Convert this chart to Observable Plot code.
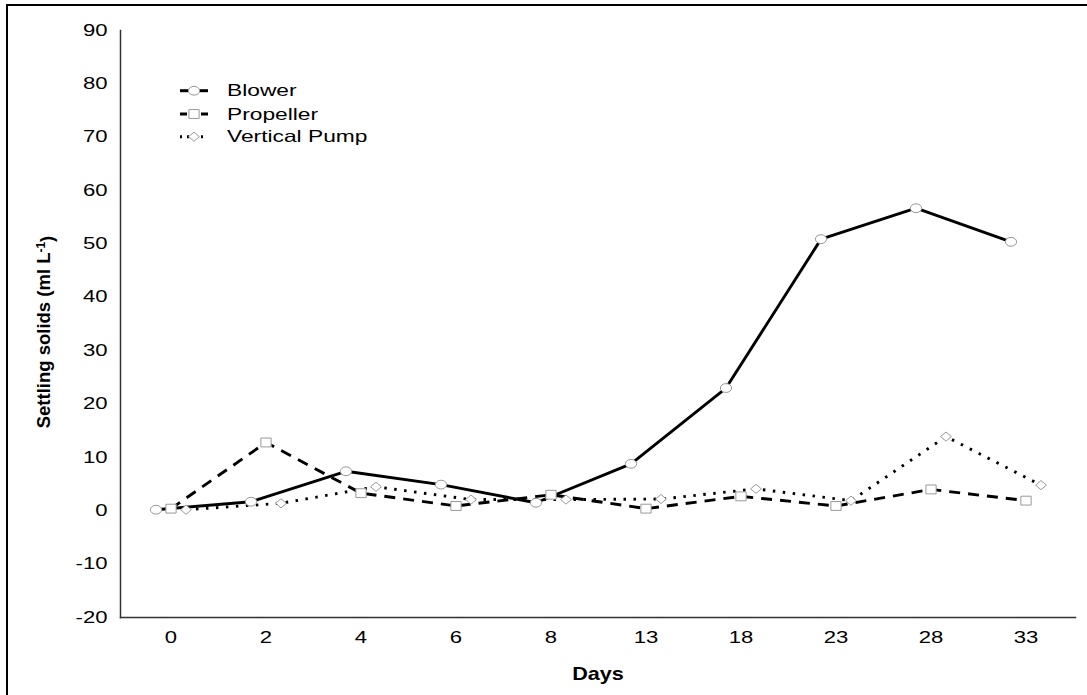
<!DOCTYPE html>
<html><head><meta charset="utf-8">
<script src="https://cdn.jsdelivr.net/npm/d3@7"></script>
<script src="https://cdn.jsdelivr.net/npm/@observablehq/plot@0.6"></script>
<style>
body{margin:0;background:#fff;overflow:hidden;font-family:"Liberation Sans",Arial,sans-serif}
#wrap{position:relative;width:1087px;height:695px;overflow:hidden}
#chart{position:absolute;left:0;top:0}
#border{position:absolute;left:6px;top:4px;width:3000px;height:3000px;border:2px solid #000;pointer-events:none}
#legend{position:absolute;left:170px;top:78px}
</style></head><body>
<div id="wrap"><div id="chart"></div><div id="legend"></div><div id="border"></div></div>
<script>
const days = ["0","2","4","6","8","13","18","23","28","33"];
const blower = [0.2, 1.7, 7.4, 4.9, 1.5, 8.8, 23.0, 50.9, 56.7, 50.4];
const propeller = [0.4, 12.8, 3.3, 0.9, 3.0, 0.4, 2.7, 0.9, 4.0, 1.9];
const verticalPump = [0.2, 1.4, 4.5, 2.1, 2.1, 2.2, 4.1, 1.9, 13.9, 4.8];
const seriesNames = ["Blower", "Propeller", "Vertical Pump"];
const yTicks = [-20, -10, 0, 10, 20, 30, 40, 50, 60, 70, 80, 90];
const yTitle = "Settling solids (ml L-1)";
const xTitle = "Days";

// horizontally stretched marker shapes (the reference is a widened picture)
const K = 0.5523;
const ellipseSym = {draw(c, size) {
  const r = Math.sqrt(size / Math.PI), rx = r * 1.08, ry = r * 0.85;
  c.moveTo(rx, 0);
  c.bezierCurveTo(rx, K * ry, K * rx, ry, 0, ry);
  c.bezierCurveTo(-K * rx, ry, -rx, K * ry, -rx, 0);
  c.bezierCurveTo(-rx, -K * ry, -K * rx, -ry, 0, -ry);
  c.bezierCurveTo(K * rx, -ry, rx, -K * ry, rx, 0);
  c.closePath();
}};
const rectSym = {draw(c, size) {
  const r = Math.sqrt(size / Math.PI), w = r * 0.95, h = r * 0.82;
  c.moveTo(-w, -h); c.lineTo(w, -h); c.lineTo(w, h); c.lineTo(-w, h); c.closePath();
}};
const diamondSym = {draw(c, size) {
  const r = Math.sqrt(size / Math.PI), w = r * 1.0, h = r * 0.85;
  c.moveTo(0, -h); c.lineTo(w, 0); c.lineTo(0, h); c.lineTo(-w, 0); c.closePath();
}};

const seriesValues = [blower, propeller, verticalPump];
const styles = [
  {dx: -15, dash: null, symbol: ellipseSym, r: 5.2},
  {dx: 0, dash: "11,8", symbol: rectSym, r: 5.4},
  {dx: 15, dash: "2.5,7.5", symbol: diamondSym, r: 5.4}
];
const tables = seriesValues.map((vals, i) => days.map((d, j) => ({day: d, value: vals[j], series: seriesNames[i]})));

const marks = [
  Plot.axisY({ticks: yTicks, tickSize: 0, tickPadding: 13, label: null, fontSize: 16, tickFormat: d => String(d)}),
  Plot.axisX({tickSize: 0, tickPadding: 14, label: null, fontSize: 16}),
  Plot.frame({anchor: "left", stroke: "#333", strokeWidth: 1.5}),
  Plot.frame({anchor: "bottom", stroke: "#333", strokeWidth: 1.5}),
  Plot.text([yTitle], {frameAnchor: "left", dx: -76, dy: 8, rotate: -90, textAnchor: "middle", fontWeight: "bold", fontSize: 18.5, text: d => d}),
  Plot.text([xTitle], {frameAnchor: "bottom", dy: 62, textAnchor: "middle", fontWeight: "bold", fontSize: 18, text: d => d})
];
tables.forEach((t, i) => {
  const s = styles[i];
  marks.push(Plot.line(t, {x: "day", y: "value", dx: s.dx, stroke: "#000", strokeWidth: 2.9,
    strokeDasharray: s.dash || undefined, strokeLinecap: "butt"}));
});
tables.forEach((t, i) => {
  const s = styles[i];
  marks.push(Plot.dot(t, {x: "day", y: "value", dx: s.dx, symbol: s.symbol, r: s.r,
    fill: "white", stroke: "#999", strokeWidth: 1}));
});

const chart = Plot.plot({
  width: 1087, height: 695,
  marginLeft: 120, marginRight: 12, marginTop: 30, marginBottom: 78,
  style: {fontFamily: "'Liberation Sans', Arial, sans-serif", fontSize: "16px", color: "#000", background: "transparent"},
  x: {type: "band", domain: days, padding: 0},
  y: {domain: [-20, 90]},
  marks
});
document.getElementById("chart").appendChild(chart);

const NS = "http://www.w3.org/2000/svg";
// widen a text horizontally about its anchor line (the reference picture is widened)
function stretch(t, s) {
  const r = t.getBoundingClientRect();
  const anchor = getComputedStyle(t).textAnchor;
  const sx = anchor === "end" ? r.right : anchor === "middle" ? (r.left + r.right) / 2 : r.left;
  const sy = (r.top + r.bottom) / 2;
  const p = t.parentNode;
  const m = p.getScreenCTM().inverse();
  const ax = sx * m.a + sy * m.c + m.e;
  const g = document.createElementNS(NS, "g");
  g.setAttribute("transform", `translate(${ax},0) scale(${s},1) translate(${-ax},0)`);
  p.insertBefore(g, t);
  g.appendChild(t);
}
Array.from(chart.querySelectorAll("text")).forEach(t => {
  if (t.textContent === yTitle) {
    t.textContent = "";
    const a = document.createElementNS(NS, "tspan"); a.textContent = "Settling solids (ml L";
    const b = document.createElementNS(NS, "tspan"); b.textContent = "-1"; b.setAttribute("dy", "-0.45em"); b.setAttribute("font-size", "12");
    const c = document.createElementNS(NS, "tspan"); c.textContent = ")"; c.setAttribute("dy", "0.45em");
    t.append(a, b, c);
  } else if (t.textContent === xTitle) {
    stretch(t, 1.2);
  } else {
    stretch(t, 1.38);
  }
});

// legend
const lg = d3.select("#legend").append("svg").attr("width", 260).attr("height", 72)
  .style("font-family", "'Liberation Sans', Arial, sans-serif");
const rowsY = [12.7, 36, 58.7];
seriesNames.forEach((name, i) => {
  const s = styles[i];
  const g = lg.append("g").attr("transform", `translate(0,${rowsY[i]})`);
  const ln = g.append("line").attr("x1", 10).attr("x2", 38).attr("stroke", "#000").attr("stroke-width", 3);
  if (i === 1) ln.attr("stroke-dasharray", "7,14");
  if (i === 2) ln.attr("stroke-dasharray", "2,5");
  g.append("path").attr("transform", "translate(24,0)")
    .attr("d", d3.symbol(s.symbol, Math.PI * s.r * s.r)())
    .attr("fill", "white").attr("stroke", "#999");
  g.append("text").attr("transform", "translate(57,0) scale(1.38,1)").attr("dy", "0.35em").attr("font-size", 16.5).text(name);
});
</script>
</body></html>
